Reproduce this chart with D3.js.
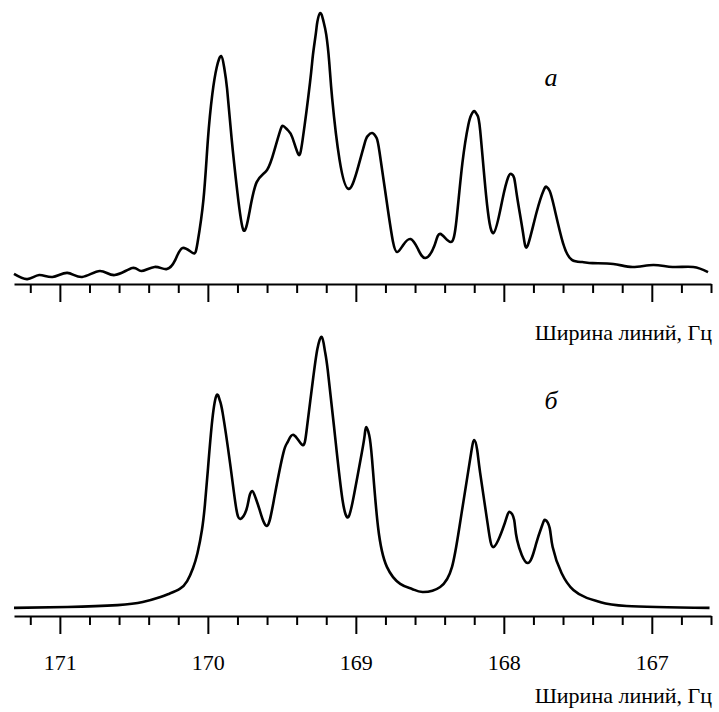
<!DOCTYPE html>
<html>
<head>
<meta charset="utf-8">
<script src="https://cdn.jsdelivr.net/npm/d3@7"></script>
<style>
  body { margin: 0; background: #fff; }
  svg { display: block; }
</style>
</head>
<body>
<svg width="719" height="712"></svg>
<script>
// chemical shift (ppm)
var shiftA = [171.31, 171.22, 171.14, 171.05, 170.95, 170.85, 170.73, 170.63, 170.51, 170.45,
   170.36, 170.28, 170.22, 170.17, 170.10, 170.07, 170.03, 170.00, 169.97, 169.94, 169.91,
   169.89, 169.87, 169.84, 169.80, 169.76, 169.72, 169.67, 169.60, 169.55, 169.51, 169.49,
   169.46, 169.43, 169.39, 169.36, 169.31, 169.29, 169.27, 169.26, 169.24, 169.22, 169.20,
   169.18, 169.16, 169.11, 169.05, 168.99, 168.94, 168.92, 168.89, 168.86, 168.84, 168.79,
   168.75, 168.72, 168.68, 168.63, 168.58, 168.53, 168.47, 168.43, 168.36, 168.32, 168.28,
   168.24, 168.22, 168.20, 168.18, 168.16, 168.12, 168.07, 168.01, 167.97, 167.95, 167.93,
   167.91, 167.87, 167.84, 167.78, 167.73, 167.71, 167.69, 167.66, 167.60, 167.54, 167.47,
   167.40, 167.26, 167.13, 166.99, 166.86, 166.72, 166.62];
// intensity (a), relative units, tallest peak = 100
var intensityA = [3.7, 1.8, 3.3, 2.6, 4.1, 2.6, 4.8, 3.3, 5.9, 4.8,
   6.3, 5.5, 8.9, 13.3, 11.4, 15.1, 31.0, 53.1, 70.0, 80.0, 84.1,
   80.0, 72.0, 54.0, 33.6, 19.9, 26.2, 37.6, 42.1, 49.4, 56.8, 58.3,
   56.8, 54.2, 48.0, 53.1, 74.2, 84.5, 92.6, 96.8, 100, 97.2, 92.0,
   82.0, 68.5, 45.8, 35.1, 42.1, 52.0, 54.6, 55.7, 53.9, 48.7, 29.9,
   15.9, 11.8, 14.4, 16.6, 12.9, 9.6, 14.0, 18.5, 15.5, 23.6, 44.6,
   58.7, 62.4, 63.8, 62.4, 56.8, 32.8, 18.8, 31.0, 39.5, 40.6, 39.1,
   32.1, 18.8, 14.0, 26.2, 34.7, 35.8, 34.3, 28.4, 15.1, 8.9, 8.1,
   7.7, 7.4, 6.3, 7.0, 6.3, 6.3, 4.4];

var shiftB = [171.31, 170.95, 170.61, 170.44, 170.32, 170.26, 170.19, 170.14, 170.10, 170.07,
   170.04, 170.02, 170.00, 169.97, 169.94, 169.92, 169.90, 169.85, 169.81, 169.78, 169.74,
   169.72, 169.70, 169.68, 169.65, 169.60, 169.55, 169.49, 169.46, 169.42, 169.36, 169.33,
   169.29, 169.26, 169.23, 169.21, 169.19, 169.14, 169.09, 169.05, 169.01, 168.96, 168.94,
   168.93, 168.91, 168.89, 168.85, 168.79, 168.70, 168.62, 168.55, 168.43, 168.35, 168.30,
   168.25, 168.22, 168.20, 168.18, 168.16, 168.11, 168.07, 168.01, 167.98, 167.96, 167.93,
   167.91, 167.84, 167.78, 167.74, 167.72, 167.69, 167.67, 167.61, 167.53, 167.44, 167.35,
   167.17, 166.61];
var intensityB = [2.9, 3.2, 3.9, 5.0, 6.8, 8.0, 9.7, 12.5, 17.2, 22.6,
   30.8, 39.8, 52.3, 70.3, 79.2, 77.4, 72.8, 54.8, 39.1, 34.8, 38.0,
   42.7, 44.8, 42.7, 38.0, 32.3, 42.7, 58.4, 62.4, 64.9, 61.3, 67.7,
   84.6, 95.7, 100, 95.3, 88.2, 64.2, 41.6, 35.5, 44.1, 58.4, 64.9,
   67.7, 64.9, 55.9, 31.9, 17.6, 11.5, 9.7, 8.6, 10.4, 17.6, 31.9,
   48.7, 58.8, 63.1, 59.5, 51.3, 33.3, 24.7, 30.8, 35.5, 37.3, 34.4,
   27.2, 19.0, 26.2, 32.6, 34.4, 31.5, 24.7, 15.4, 9.3, 6.5, 5.0,
   3.6, 2.9];

var majorTicks = [171, 170, 169, 168, 167];
var axisTitle = "Ширина линий, Гц";
var serif = "'Times New Roman', 'Liberation Serif', 'DejaVu Serif', serif";

var svg = d3.select("svg").attr("font-family", serif);

var x = d3.scaleLinear().domain([171.31, 166.6]).range([14, 711]);
var minorTicks = d3.range(1712, 1665, -2).map(function (d) { return d / 10; })
   .filter(function (d) { return Math.abs(d - Math.round(d)) > 1e-6; });

function drawPanel(shift, intensity, axisY, peakY, letter, letterY, titleY, showLabels) {
   var y = d3.scaleLinear().domain([0, 100]).range([axisY, peakY]);
   var pts = shift.map(function (s, i) { return [s, intensity[i]]; });

   var line = d3.line()
      .x(function (d) { return x(d[0]); })
      .y(function (d) { return y(d[1]); })
      .curve(d3.curveNatural);

   svg.append("path")
      .datum(pts)
      .attr("d", line)
      .attr("fill", "none")
      .attr("stroke", "#000")
      .attr("stroke-width", 2.6)
      .attr("stroke-linejoin", "round");

   // minor ticks
   svg.append("g")
      .attr("transform", "translate(0," + axisY + ")")
      .call(d3.axisBottom(x).tickValues(minorTicks).tickSize(9).tickSizeOuter(0).tickFormat(""))
      .call(function (g) {
         g.select(".domain").attr("stroke-width", 2);
         g.selectAll(".tick line").attr("stroke-width", 2);
      });

   // major ticks
   var major = svg.append("g")
      .attr("transform", "translate(0," + axisY + ")")
      .call(d3.axisBottom(x).tickValues(majorTicks).tickSize(18).tickSizeOuter(0).tickPadding(20)
         .tickFormat(showLabels ? d3.format("d") : ""))
      .call(function (g) {
         g.select(".domain").remove();
         g.selectAll(".tick line").attr("stroke-width", 2);
      });
   major.attr("font-family", serif).attr("font-size", 22);
   major.selectAll("text")
      .attr("font-family", serif)
      .attr("font-size", 22)
      .attr("fill", "#000");

   svg.append("text")
      .attr("x", 712)
      .attr("y", titleY)
      .attr("text-anchor", "end")
      .attr("font-size", 22)
      .text(axisTitle);

   svg.append("text")
      .attr("x", 551)
      .attr("y", letterY)
      .attr("text-anchor", "middle")
      .attr("font-size", 26)
      .attr("font-style", "italic")
      .text(letter);
}

drawPanel(shiftA, intensityA, 284, 13, "а", 86, 340, false);
drawPanel(shiftB, intensityB, 616, 337, "б", 409, 703, true);
</script>
</body>
</html>
